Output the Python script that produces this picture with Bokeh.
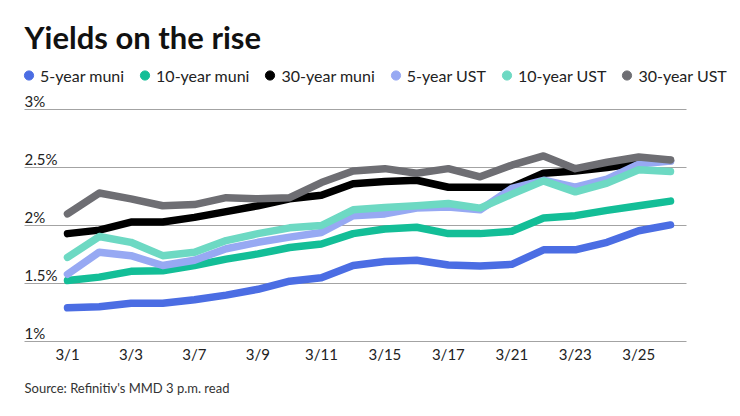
import numpy as np
from bokeh.plotting import figure
from bokeh.models import Range1d, Label, Legend, LegendItem, ColumnDataSource
from bokeh.core.properties import value
from bokeh.embed import file_html
from bokeh.resources import INLINE

# ---- data ----
dates = ["3/1", "3/2", "3/3", "3/4", "3/7", "3/8", "3/9", "3/10", "3/11", "3/14",
         "3/15", "3/16", "3/17", "3/18", "3/21", "3/22", "3/23", "3/24", "3/25", "3/28"]
shown_dates = ["3/1", "3/3", "3/7", "3/9", "3/11", "3/15", "3/17", "3/21", "3/23", "3/25"]

muni_5 = [1.29, 1.30, 1.33, 1.33, 1.36, 1.40, 1.45, 1.52, 1.55, 1.655,
          1.69, 1.70, 1.66, 1.65, 1.665, 1.79, 1.79, 1.855, 1.955, 2.005]
muni_10 = [1.525, 1.555, 1.605, 1.61, 1.655, 1.71, 1.755, 1.81, 1.84, 1.93,
           1.97, 1.985, 1.93, 1.93, 1.95, 2.065, 2.085, 2.13, 2.17, 2.21]
muni_30 = [1.93, 1.96, 2.03, 2.03, 2.07, 2.12, 2.17, 2.23, 2.26, 2.36,
           2.38, 2.39, 2.33, 2.33, 2.33, 2.45, 2.47, 2.50, 2.54, 2.56]
ust_5 = [1.58, 1.77, 1.74, 1.655, 1.70, 1.80, 1.855, 1.90, 1.94, 2.085,
         2.10, 2.15, 2.16, 2.135, 2.32, 2.39, 2.33, 2.40, 2.53, 2.555]
ust_10 = [1.725, 1.905, 1.855, 1.74, 1.77, 1.87, 1.93, 1.98, 2.0, 2.135,
          2.155, 2.17, 2.19, 2.15, 2.27, 2.385, 2.29, 2.365, 2.48, 2.465]
ust_30 = [2.10, 2.28, 2.23, 2.17, 2.18, 2.24, 2.23, 2.24, 2.37, 2.47,
          2.49, 2.45, 2.49, 2.42, 2.52, 2.60, 2.49, 2.545, 2.59, 2.565]

series_names = ["5-year muni", "10-year muni", "30-year muni",
                "5-year UST", "10-year UST", "30-year UST"]
series_values = [muni_5, muni_10, muni_30, ust_5, ust_10, ust_30]
series_colors = ["#4B6DE3", "#13BE97", "#000000", "#97A9F3", "#6DD9C3", "#6E6E73"]

y_ticks = [1.0, 1.5, 2.0, 2.5, 3.0]
y_tick_labels = ["1%", "1.5%", "2%", "2.5%", "3%"]

title_text = "Yields on the rise"
source_text = "Source: Refinitiv's MMD 3 p.m. read"

FONT = "Lato"

# ---- layout constants (screen mapping) ----
W, H = 740, 416
PX_X = 31.737          # pixels per day-step
PX_Y = 116.0           # pixels per 1 percentage point
X_FIRST_PX = 67        # pixel of first point
Y_ONE_PX = 341         # pixel of the 1% line
X0 = -X_FIRST_PX / PX_X
X1 = (W - X_FIRST_PX) / PX_X
Y0 = 1 - (H - Y_ONE_PX) / PX_Y
Y1 = 1 + Y_ONE_PX / PX_Y
GRID_X0 = (24 - X_FIRST_PX) / PX_X
GRID_X1 = (686 - X_FIRST_PX) / PX_X
XLAB_Y = 1 - 3 / PX_Y

x = list(range(len(dates)))
p = figure(width=W, height=H, output_backend="svg", toolbar_location=None,
           x_range=Range1d(X0, X1), y_range=Range1d(Y0, Y1),
           x_axis_location=None, y_axis_location=None,
           min_border=0, min_border_left=0, min_border_right=0,
           min_border_top=0, min_border_bottom=0)
p.outline_line_color = None
p.background_fill_color = "white"
p.border_fill_color = "white"
p.xgrid.visible = False
p.ygrid.visible = False

# horizontal gridlines at the y ticks
p.segment(x0=GRID_X0, x1=GRID_X1, y0=y_ticks, y1=y_ticks,
          line_color="#a3a3a3", line_width=1)

# y tick labels sitting above gridlines
p.text(x=GRID_X0, y=y_ticks, text=y_tick_labels, text_font=value(FONT),
       text_font_size="15px", text_color="#222222", text_align="left",
       text_baseline="bottom")

# x tick labels
tick_idx = [dates.index(d) for d in shown_dates]
p.text(x=tick_idx, y=XLAB_Y, text=shown_dates, text_font=value(FONT),
       text_font_size="15px", text_color="#222222", text_align="center",
       text_baseline="top")

# lines
for name, vals, col in zip(series_names, series_values, series_colors):
    p.line(x, vals, line_color=col, line_width=7.5, line_cap="round",
           line_join="round")

# legend (dots) - renderers hold a single non-drawn (NaN) point
items = []
for name, col in zip(series_names, series_colors):
    src = ColumnDataSource(data=dict(x=np.array([np.nan]), y=np.array([np.nan])))
    r = p.scatter(x="x", y="y", source=src, marker="circle",
                  fill_color=col, line_color=col)
    items.append(LegendItem(label=name, renderers=[r]))
legend = Legend(items=items, orientation="horizontal", location=(17, 329),
                glyph_width=23, glyph_height=24, label_standoff=0, spacing=9,
                padding=0, margin=0, border_line_color=None,
                background_fill_alpha=0, label_text_font=FONT,
                label_text_font_size="16px", label_text_color="#222222",
                label_height=24)
p.add_layout(legend, "center")

# title & source
p.add_layout(Label(x=24, y=H - 36, x_units="screen", y_units="screen", text=title_text,
                   text_font=FONT, text_font_style="bold", text_font_size="31px",
                   text_color="#111111", text_baseline="alphabetic"))
p.add_layout(Label(x=24, y=H - 387, x_units="screen", y_units="screen", text=source_text,
                   text_font=FONT, text_font_size="13px", text_color="#333333",
                   text_baseline="alphabetic"))

open("out.html", "w").write(file_html(p, INLINE))
